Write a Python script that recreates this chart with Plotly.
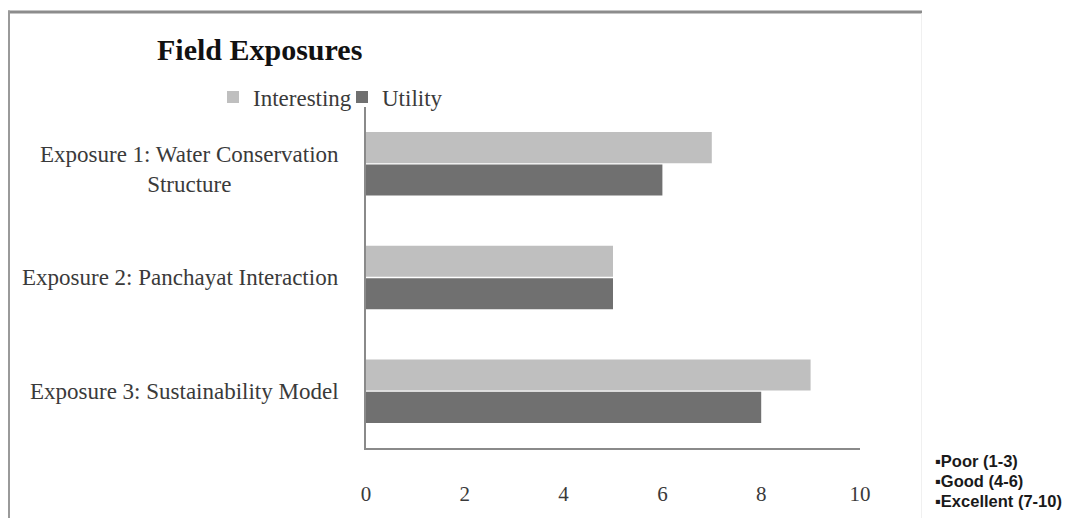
import plotly.graph_objects as go

# Survey ratings for each field exposure
exposures = [
    "Exposure 1: Water Conservation<br>Structure",
    "Exposure 2: Panchayat Interaction",
    "Exposure 3: Sustainability Model",
]
interesting = [7, 5, 9]
utility = [6, 5, 8]
x_ticks = [0, 2, 4, 6, 8, 10]
scale_notes = ["▪Poor (1-3)", "▪Good (4-6)", "▪Excellent (7-10)"]

SERIF = "Liberation Serif, Times New Roman, serif"
W, H = 1077, 518
L, R, T, B = 366, 217, 107, 65
PW, PH = W - L - R, H - T - B


def px_x(p):
    return (p - L) / PW


def px_y(p):
    return (H - B - p) / PH


fig = go.Figure()
fig.add_trace(go.Bar(
    y=exposures, x=interesting, orientation="h", name="Interesting",
    marker=dict(color="#bfbfbf", line=dict(width=0)),
))
fig.add_trace(go.Bar(
    y=exposures, x=utility, orientation="h", name="Utility",
    marker=dict(color="#707070", line=dict(width=0)),
))

# Category labels, centred line by line, placed on the category axis
annotations = []
for cat in exposures:
    annotations.append(dict(
        x=px_x(341), xref="paper", y=cat, yref="y",
        text=cat, showarrow=False, xanchor="right", yanchor="middle",
        align="center", font=dict(family=SERIF, size=23, color="#3a3a3a"),
        yshift=-6 if "<br>" in cat else 0,
    ))

# Rating scale notes, bottom right
for i, note in enumerate(scale_notes):
    annotations.append(dict(
        x=px_x(933), xref="paper", y=px_y(466 + 20.5 * i), yref="paper",
        text="<b>" + note + "</b>", showarrow=False, xanchor="left", yanchor="middle",
        font=dict(family="Liberation Sans, Arial, sans-serif", size=16.5, color="#1a1a1a"),
    ))

# Chart title
annotations.append(dict(
    x=px_x(259), xref="paper", y=px_y(49), yref="paper",
    text="<b>Field Exposures</b>", showarrow=False, xanchor="center", yanchor="middle",
    font=dict(family=SERIF, size=30, color="#111111"),
))

shapes = [
    # chart frame: top, left, right edges
    dict(type="line", xref="paper", yref="paper", x0=px_x(8), x1=px_x(922),
         y0=px_y(10.5), y1=px_y(10.5), line=dict(color="#8c8c8c", width=3)),
    dict(type="line", xref="paper", yref="paper", x0=px_x(9), x1=px_x(9),
         y0=px_y(9), y1=px_y(530), line=dict(color="#9a9a9a", width=2)),
    dict(type="line", xref="paper", yref="paper", x0=px_x(921.5), x1=px_x(921.5),
         y0=px_y(12), y1=px_y(530), line=dict(color="#f0f0f0", width=1)),
]

fig.update_layout(
    width=W, height=H,
    margin=dict(l=L, r=R, t=T, b=B, pad=0),
    paper_bgcolor="white", plot_bgcolor="white",
    barmode="group", bargap=0.43, bargroupgap=0.04,
    showlegend=True,
    legend=dict(
        orientation="h", x=px_x(213), y=px_y(97), xanchor="left", yanchor="middle",
        font=dict(family=SERIF, size=23, color="#3a3a3a"),
        itemwidth=30, entrywidth=84, bgcolor="rgba(0,0,0,0)", traceorder="normal",
    ),
    xaxis=dict(
        range=[0, 10], tickvals=x_ticks, showgrid=False, zeroline=False,
        showline=True, linecolor="#8a8a8a", linewidth=2,
        ticks="", ticklabelstandoff=26,
        tickfont=dict(family=SERIF, size=21, color="#3a3a3a"),
        fixedrange=True,
    ),
    yaxis=dict(
        categoryorder="array", categoryarray=exposures, autorange="reversed",
        showticklabels=False, showgrid=False, zeroline=False,
        showline=True, linecolor="#8a8a8a", linewidth=2, ticks="",
    ),
    annotations=annotations,
    shapes=shapes,
)

fig.write_html("out.html")
